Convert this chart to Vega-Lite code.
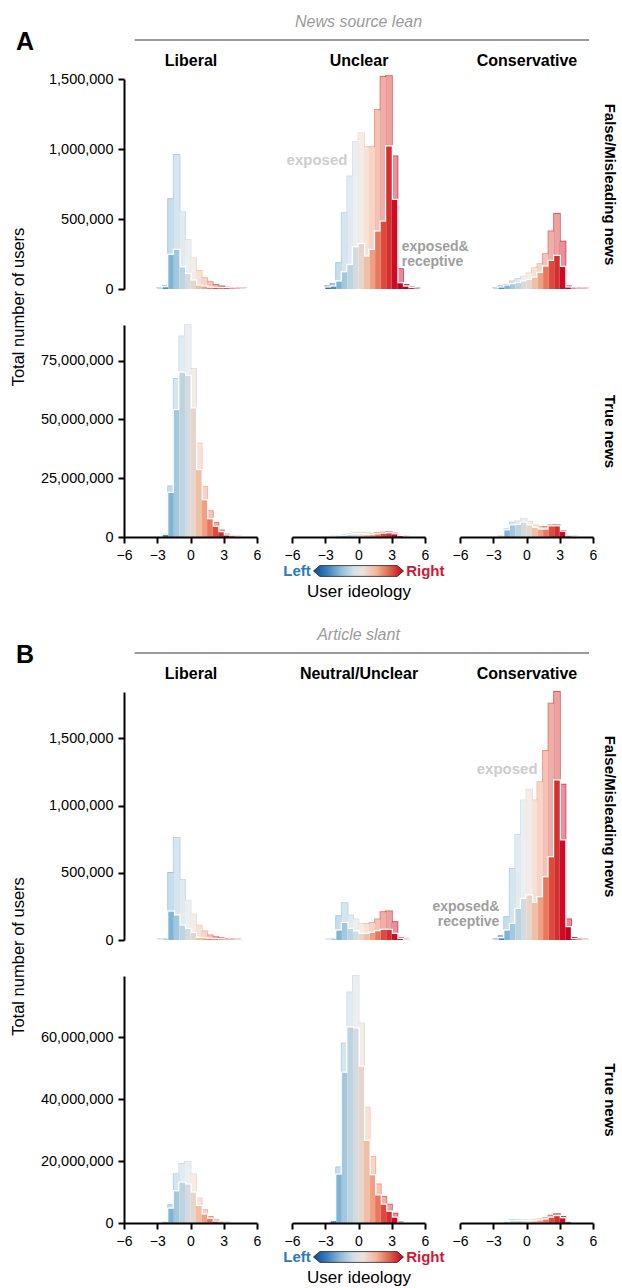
{
"$schema": "https://vega.github.io/schema/vega-lite/v6.json",
"padding": {"left": 10, "top": 14, "right": 5, "bottom": 5},
"config": {
  "font": "Liberation Sans",
  "view": {"stroke": null},
  "axis": {"grid": false, "domainColor": "black", "domainWidth": 2, "tickColor": "black", "tickWidth": 2, "tickSize": 6, "labelColor": "black", "labelFontSize": 14.5, "labelPadding": 5, "titleColor": "black"}
},
"datasets": {
"a11": [
{"lo":-3,"hi":-2.5,"exp":5000,"rec":2000},{"lo":-2.5,"hi":-2,"exp":17000,"rec":12000},{"lo":-2,"hi":-1.5,"exp":641000,"rec":243000},{"lo":-1.5,"hi":-1,"exp":957000,"rec":279000},{"lo":-1,"hi":-0.5,"exp":548000,"rec":155000},{"lo":-0.5,"hi":0,"exp":350000,"rec":107000},{"lo":0,"hi":0.5,"exp":219000,"rec":60000},{"lo":0.5,"hi":1,"exp":129000,"rec":24000},{"lo":1,"hi":1.5,"exp":76000,"rec":17000},{"lo":1.5,"hi":2,"exp":48000,"rec":9000},{"lo":2,"hi":2.5,"exp":29000,"rec":7000},{"lo":2.5,"hi":3,"exp":18000,"rec":5000},{"lo":3,"hi":3.5,"exp":9000,"rec":5000},{"lo":3.5,"hi":4,"exp":5000,"rec":3000},{"lo":4,"hi":4.5,"exp":4000,"rec":2000},{"lo":4.5,"hi":5,"exp":3000,"rec":1000}
],
"a12": [
{"lo":-3,"hi":-2.5,"exp":17000,"rec":10000},{"lo":-2.5,"hi":-2,"exp":34000,"rec":17000},{"lo":-2,"hi":-1.5,"exp":184000,"rec":53000},{"lo":-1.5,"hi":-1,"exp":541000,"rec":119000},{"lo":-1,"hi":-0.5,"exp":803000,"rec":171000},{"lo":-0.5,"hi":0,"exp":1048000,"rec":298000},{"lo":0,"hi":0.5,"exp":1112000,"rec":321000},{"lo":0.5,"hi":1,"exp":1012000,"rec":231000},{"lo":1,"hi":1.5,"exp":1012000,"rec":279000},{"lo":1.5,"hi":2,"exp":1279000,"rec":410000},{"lo":2,"hi":2.5,"exp":1515000,"rec":481000},{"lo":2.5,"hi":3,"exp":1520000,"rec":1017000},{"lo":3,"hi":3.5,"exp":946000,"rec":636000},{"lo":3.5,"hi":4,"exp":141000,"rec":41000},{"lo":4,"hi":4.5,"exp":29000,"rec":17000},{"lo":4.5,"hi":5,"exp":10000,"rec":6000},{"lo":5,"hi":5.5,"exp":7000,"rec":3000}
],
"a13": [
{"lo":-3,"hi":-2.5,"exp":5000,"rec":2000},{"lo":-2.5,"hi":-2,"exp":17000,"rec":10000},{"lo":-2,"hi":-1.5,"exp":29000,"rec":24000},{"lo":-1.5,"hi":-1,"exp":53000,"rec":34000},{"lo":-1,"hi":-0.5,"exp":71000,"rec":41000},{"lo":-0.5,"hi":0,"exp":88000,"rec":53000},{"lo":0,"hi":0.5,"exp":112000,"rec":64000},{"lo":0.5,"hi":1,"exp":148000,"rec":81000},{"lo":1,"hi":1.5,"exp":176000,"rec":114000},{"lo":1.5,"hi":2,"exp":248000,"rec":160000},{"lo":2,"hi":2.5,"exp":410000,"rec":200000},{"lo":2.5,"hi":3,"exp":536000,"rec":236000},{"lo":3,"hi":3.5,"exp":338000,"rec":157000},{"lo":3.5,"hi":4,"exp":17000,"rec":10000},{"lo":4,"hi":4.5,"exp":7000,"rec":3000},{"lo":4.5,"hi":5,"exp":5000,"rec":2000},{"lo":5,"hi":5.5,"exp":4000,"rec":2000}
],
"a21": [
{"lo":-2.5,"hi":-2,"exp":1000000,"rec":900000},{"lo":-2,"hi":-1.5,"exp":21500000,"rec":18700000},{"lo":-1.5,"hi":-1,"exp":67100000,"rec":53900000},{"lo":-1,"hi":-0.5,"exp":85200000,"rec":69800000},{"lo":-0.5,"hi":0,"exp":90100000,"rec":68400000},{"lo":0,"hi":0.5,"exp":71400000,"rec":54600000},{"lo":0.5,"hi":1,"exp":39700000,"rec":28400000},{"lo":1,"hi":1.5,"exp":21300000,"rec":15600000},{"lo":1.5,"hi":2,"exp":10900000,"rec":7500000},{"lo":2,"hi":2.5,"exp":6000000,"rec":4300000},{"lo":2.5,"hi":3,"exp":2800000,"rec":2000000},{"lo":3,"hi":3.5,"exp":1000000,"rec":600000},{"lo":3.5,"hi":4,"exp":300000,"rec":200000},{"lo":4,"hi":4.5,"exp":100000,"rec":50000}
],
"a22": [
{"lo":-2.5,"hi":-2,"exp":100000,"rec":50000},{"lo":-2,"hi":-1.5,"exp":300000,"rec":200000},{"lo":-1.5,"hi":-1,"exp":800000,"rec":500000},{"lo":-1,"hi":-0.5,"exp":1300000,"rec":900000},{"lo":-0.5,"hi":0,"exp":1700000,"rec":1100000},{"lo":0,"hi":0.5,"exp":1800000,"rec":1100000},{"lo":0.5,"hi":1,"exp":1500000,"rec":900000},{"lo":1,"hi":1.5,"exp":1400000,"rec":900000},{"lo":1.5,"hi":2,"exp":1600000,"rec":1100000},{"lo":2,"hi":2.5,"exp":1800000,"rec":1400000},{"lo":2.5,"hi":3,"exp":1900000,"rec":1500000},{"lo":3,"hi":3.5,"exp":1400000,"rec":1100000},{"lo":3.5,"hi":4,"exp":400000,"rec":300000},{"lo":4,"hi":4.5,"exp":100000,"rec":50000}
],
"a23": [
{"lo":-2.5,"hi":-2,"exp":200000,"rec":100000},{"lo":-2,"hi":-1.5,"exp":3200000,"rec":2800000},{"lo":-1.5,"hi":-1,"exp":6100000,"rec":4900000},{"lo":-1,"hi":-0.5,"exp":6600000,"rec":5100000},{"lo":-0.5,"hi":0,"exp":7800000,"rec":6100000},{"lo":0,"hi":0.5,"exp":6400000,"rec":4900000},{"lo":0.5,"hi":1,"exp":4900000,"rec":3900000},{"lo":1,"hi":1.5,"exp":4200000,"rec":3100000},{"lo":1.5,"hi":2,"exp":4200000,"rec":3100000},{"lo":2,"hi":2.5,"exp":4900000,"rec":4500000},{"lo":2.5,"hi":3,"exp":4900000,"rec":4500000},{"lo":3,"hi":3.5,"exp":2500000,"rec":2200000},{"lo":3.5,"hi":4,"exp":300000,"rec":200000},{"lo":4,"hi":4.5,"exp":100000,"rec":50000}
],
"b11": [
{"lo":-3,"hi":-2.5,"exp":3000,"rec":1000},{"lo":-2.5,"hi":-2,"exp":7000,"rec":3000},{"lo":-2,"hi":-1.5,"exp":499000,"rec":211000},{"lo":-1.5,"hi":-1,"exp":760000,"rec":182000},{"lo":-1,"hi":-0.5,"exp":447000,"rec":107000},{"lo":-0.5,"hi":0,"exp":293000,"rec":82000},{"lo":0,"hi":0.5,"exp":189000,"rec":52000},{"lo":0.5,"hi":1,"exp":107000,"rec":15000},{"lo":1,"hi":1.5,"exp":63000,"rec":12000},{"lo":1.5,"hi":2,"exp":33000,"rec":7000},{"lo":2,"hi":2.5,"exp":21000,"rec":5000},{"lo":2.5,"hi":3,"exp":12000,"rec":3000},{"lo":3,"hi":3.5,"exp":7000,"rec":2000},{"lo":3.5,"hi":4,"exp":5000,"rec":2000},{"lo":4,"hi":4.5,"exp":3000,"rec":1000}
],
"b12": [
{"lo":-3,"hi":-2.5,"exp":2000,"rec":1000},{"lo":-2.5,"hi":-2,"exp":7000,"rec":3000},{"lo":-2,"hi":-1.5,"exp":177000,"rec":70000},{"lo":-1.5,"hi":-1,"exp":273000,"rec":127000},{"lo":-1,"hi":-0.5,"exp":182000,"rec":82000},{"lo":-0.5,"hi":0,"exp":152000,"rec":63000},{"lo":0,"hi":0.5,"exp":119000,"rec":45000},{"lo":0.5,"hi":1,"exp":119000,"rec":45000},{"lo":1,"hi":1.5,"exp":127000,"rec":52000},{"lo":1.5,"hi":2,"exp":152000,"rec":65000},{"lo":2,"hi":2.5,"exp":206000,"rec":75000},{"lo":2.5,"hi":3,"exp":212000,"rec":75000},{"lo":3,"hi":3.5,"exp":132000,"rec":45000},{"lo":3.5,"hi":4,"exp":13000,"rec":7000},{"lo":4,"hi":4.5,"exp":3000,"rec":1000}
],
"b13": [
{"lo":-3,"hi":-2.5,"exp":7000,"rec":2000},{"lo":-2.5,"hi":-2,"exp":27000,"rec":13000},{"lo":-2,"hi":-1.5,"exp":169000,"rec":70000},{"lo":-1.5,"hi":-1,"exp":529000,"rec":119000},{"lo":-1,"hi":-0.5,"exp":782000,"rec":231000},{"lo":-0.5,"hi":0,"exp":1039000,"rec":306000},{"lo":0,"hi":0.5,"exp":1118000,"rec":331000},{"lo":0.5,"hi":1,"exp":1039000,"rec":276000},{"lo":1,"hi":1.5,"exp":1175000,"rec":318000},{"lo":1.5,"hi":2,"exp":1406000,"rec":467000},{"lo":2,"hi":2.5,"exp":1759000,"rec":616000},{"lo":2.5,"hi":3,"exp":1846000,"rec":1188000},{"lo":3,"hi":3.5,"exp":1155000,"rec":741000},{"lo":3.5,"hi":4,"exp":152000,"rec":95000},{"lo":4,"hi":4.5,"exp":15000,"rec":5000},{"lo":4.5,"hi":5,"exp":7000,"rec":3000},{"lo":5,"hi":5.5,"exp":3000,"rec":1000}
],
"b21": [
{"lo":-2.5,"hi":-2,"exp":300000,"rec":200000},{"lo":-2,"hi":-1.5,"exp":5700000,"rec":4600000},{"lo":-1.5,"hi":-1,"exp":15700000,"rec":10200000},{"lo":-1,"hi":-0.5,"exp":19000000,"rec":13000000},{"lo":-0.5,"hi":0,"exp":19700000,"rec":12400000},{"lo":0,"hi":0.5,"exp":15700000,"rec":9800000},{"lo":0.5,"hi":1,"exp":7900000,"rec":5500000},{"lo":1,"hi":1.5,"exp":4100000,"rec":2700000},{"lo":1.5,"hi":2,"exp":1900000,"rec":1300000},{"lo":2,"hi":2.5,"exp":800000,"rec":400000},{"lo":2.5,"hi":3,"exp":300000,"rec":150000},{"lo":3,"hi":3.5,"exp":100000,"rec":50000}
],
"b22": [
{"lo":-2.5,"hi":-2,"exp":650000,"rec":600000},{"lo":-2,"hi":-1.5,"exp":17900000,"rec":15600000},{"lo":-1.5,"hi":-1,"exp":57900000,"rec":48500000},{"lo":-1,"hi":-0.5,"exp":74400000,"rec":63100000},{"lo":-0.5,"hi":0,"exp":79700000,"rec":62800000},{"lo":0,"hi":0.5,"exp":64400000,"rec":50400000},{"lo":0.5,"hi":1,"exp":37200000,"rec":26500000},{"lo":1,"hi":1.5,"exp":21300000,"rec":15400000},{"lo":1.5,"hi":2,"exp":12400000,"rec":8900000},{"lo":2,"hi":2.5,"exp":8400000,"rec":5900000},{"lo":2.5,"hi":3,"exp":5900000,"rec":3600000},{"lo":3,"hi":3.5,"exp":3000000,"rec":1700000},{"lo":3.5,"hi":4,"exp":300000,"rec":100000}
],
"b23": [
{"lo":-2,"hi":-1.5,"exp":300000,"rec":200000},{"lo":-1.5,"hi":-1,"exp":900000,"rec":500000},{"lo":-1,"hi":-0.5,"exp":1000000,"rec":600000},{"lo":-0.5,"hi":0,"exp":900000,"rec":600000},{"lo":0,"hi":0.5,"exp":800000,"rec":500000},{"lo":0.5,"hi":1,"exp":900000,"rec":600000},{"lo":1,"hi":1.5,"exp":1100000,"rec":800000},{"lo":1.5,"hi":2,"exp":1500000,"rec":1100000},{"lo":2,"hi":2.5,"exp":2300000,"rec":1700000},{"lo":2.5,"hi":3,"exp":2800000,"rec":2200000},{"lo":3,"hi":3.5,"exp":1900000,"rec":1500000},{"lo":3.5,"hi":4,"exp":300000,"rec":200000}
]
},
"spacing": 28,
"vconcat": [
{
 "title": {"text": "A", "anchor": "start", "fontSize": 25, "fontWeight": "bold", "dx": 5, "dy": 45, "color": "black"},
 "spacing": 6,
 "vconcat": [
  {"width": 469, "height": 24, "data": {"values": [{}]}, "layer": [
    {"mark": {"type": "rule", "color": "#9a9a9a", "strokeWidth": 2}, "encoding": {"x": {"datum": -20.2, "type": "quantitative", "scale": {"domain": [-21.16, 21.16], "nice": false}, "axis": null}, "x2": {"datum": 20.8}, "y": {"datum": 0.25, "type": "quantitative", "scale": {"domain": [0, 1], "nice": false}, "axis": null}}},
    {"mark": {"type": "text", "text": "News source lean", "fontSize": 16, "fontStyle": "italic", "color": "#9a9a9a", "baseline": "middle"}, "encoding": {"y": {"datum": 1, "type": "quantitative", "scale": {"domain": [0, 1], "nice": false}, "axis": null}}}
  ]},
  {"spacing": 2, "vconcat": [
   {"title": {"text": "Total number of users", "orient": "left", "anchor": "middle", "fontSize": 16.5, "fontWeight": "normal", "offset": 13, "color": "black"},
    "columns": 3, "align": "each", "bounds": "flush", "spacing": {"row": 36, "column": 35},
    "concat": [
     {"width": 133, "height": 210, "data": {"name": "a11"},
      "encoding": {"x": {"field": "lo", "type": "quantitative", "scale": {"domain": [-6, 6], "nice": false}, "axis": {"orient": "top", "title": "Liberal", "labels": false, "ticks": false, "domain": false, "titleFontSize": 16, "titleFontWeight": "bold", "titlePadding": 11}}, "x2": {"field": "hi"}, "y2": {"datum": 0}},
      "layer": [
       {"mark": {"type": "rect", "filled": false, "strokeWidth": 2, "strokeOpacity": 0.8}, "encoding": {"y": {"field": "exp", "type": "quantitative", "scale": {"domain": [0, 1500000], "nice": false}, "axis": {"values": [0, 500000, 1000000, 1500000], "format": ",d", "title": null}}, "color": {"field": "lo", "type": "quantitative", "scale": {"domain": [-3.5,-3,-2.5,-2,-1.5,-1,-0.5,0,0.5,1,1.5,2,2.5,3,3.5], "range": ["#1a5ea6","#2b6fb2","#4a8bc4","#7fb4d6","#a3c8de","#bcd3e0","#d3dbe0","#e7d4ca","#f0bda5","#efa082","#e8775c","#dc4b3d","#d3302f","#cc0b27","#c4001f"], "interpolate": "rgb"}, "legend": null}}},
       {"mark": {"type": "rect", "color": "white", "strokeWidth": 0}, "encoding": {"y": {"field": "exp", "type": "quantitative", "scale": {"domain": [0, 1500000], "nice": false}, "axis": {"values": [0, 500000, 1000000, 1500000], "format": ",d", "title": null}}}},
       {"mark": {"type": "rect", "fillOpacity": 0.45, "strokeWidth": 0}, "encoding": {"y": {"field": "exp", "type": "quantitative", "scale": {"domain": [0, 1500000], "nice": false}, "axis": {"values": [0, 500000, 1000000, 1500000], "format": ",d", "title": null}}, "color": {"field": "lo", "type": "quantitative", "legend": null}}},
       {"mark": {"type": "rect", "stroke": "white", "strokeWidth": 2.5}, "encoding": {"y": {"field": "rec", "type": "quantitative", "scale": {"domain": [0, 1500000], "nice": false}, "axis": {"values": [0, 500000, 1000000, 1500000], "format": ",d", "title": null}}, "color": {"field": "lo", "type": "quantitative", "legend": null}}},
       {"mark": {"type": "rect", "strokeWidth": 0}, "encoding": {"y": {"field": "rec", "type": "quantitative", "scale": {"domain": [0, 1500000], "nice": false}, "axis": {"values": [0, 500000, 1000000, 1500000], "format": ",d", "title": null}}, "color": {"field": "lo", "type": "quantitative", "legend": null}}}
      ]},
     {"width": 133, "height": 210, "data": {"name": "a12"},
      "encoding": {"x": {"field": "lo", "type": "quantitative", "scale": {"domain": [-6, 6], "nice": false}, "axis": {"orient": "top", "title": "Unclear", "labels": false, "ticks": false, "domain": false, "titleFontSize": 16, "titleFontWeight": "bold", "titlePadding": 11}}},
      "layer": [
       {"mark": {"type": "rect", "filled": false, "strokeWidth": 2, "strokeOpacity": 0.8}, "encoding": {"x2": {"field": "hi"}, "y2": {"datum": 0}, "y": {"field": "exp", "type": "quantitative", "scale": {"domain": [0, 1500000], "nice": false}, "axis": null}, "color": {"field": "lo", "type": "quantitative", "scale": {"domain": [-3.5,-3,-2.5,-2,-1.5,-1,-0.5,0,0.5,1,1.5,2,2.5,3,3.5], "range": ["#1a5ea6","#2b6fb2","#4a8bc4","#7fb4d6","#a3c8de","#bcd3e0","#d3dbe0","#e7d4ca","#f0bda5","#efa082","#e8775c","#dc4b3d","#d3302f","#cc0b27","#c4001f"], "interpolate": "rgb"}, "legend": null}}},
       {"mark": {"type": "rect", "color": "white", "strokeWidth": 0}, "encoding": {"x2": {"field": "hi"}, "y2": {"datum": 0}, "y": {"field": "exp", "type": "quantitative", "scale": {"domain": [0, 1500000], "nice": false}, "axis": null}}},
       {"mark": {"type": "rect", "fillOpacity": 0.45, "strokeWidth": 0}, "encoding": {"x2": {"field": "hi"}, "y2": {"datum": 0}, "y": {"field": "exp", "type": "quantitative", "scale": {"domain": [0, 1500000], "nice": false}, "axis": null}, "color": {"field": "lo", "type": "quantitative", "legend": null}}},
       {"mark": {"type": "rect", "stroke": "white", "strokeWidth": 2.5}, "encoding": {"x2": {"field": "hi"}, "y2": {"datum": 0}, "y": {"field": "rec", "type": "quantitative", "scale": {"domain": [0, 1500000], "nice": false}, "axis": null}, "color": {"field": "lo", "type": "quantitative", "legend": null}}},
       {"mark": {"type": "rect", "strokeWidth": 0}, "encoding": {"x2": {"field": "hi"}, "y2": {"datum": 0}, "y": {"field": "rec", "type": "quantitative", "scale": {"domain": [0, 1500000], "nice": false}, "axis": null}, "color": {"field": "lo", "type": "quantitative", "legend": null}}},
       {"transform": [{"filter": "datum.lo === 0"}], "mark": {"type": "text", "text": "exposed", "align": "right", "baseline": "middle", "fontSize": 15, "fontWeight": "bold", "color": "#cdcdcd"}, "encoding": {"x": {"datum": -1.0, "type": "quantitative", "axis": {"orient": "top", "title": "Unclear", "labels": false, "ticks": false, "domain": false, "titleFontSize": 16, "titleFontWeight": "bold", "titlePadding": 11}}, "y": {"datum": 919000, "type": "quantitative", "axis": null}}},
       {"transform": [{"filter": "datum.lo === 0"}], "mark": {"type": "text", "text": ["exposed&", "receptive"], "align": "left", "baseline": "middle", "lineHeight": 15, "fontSize": 14, "fontWeight": "bold", "color": "#9e9e9e"}, "encoding": {"x": {"datum": 3.9, "type": "quantitative", "axis": {"orient": "top", "title": "Unclear", "labels": false, "ticks": false, "domain": false, "titleFontSize": 16, "titleFontWeight": "bold", "titlePadding": 11}}, "y": {"datum": 300000, "type": "quantitative", "axis": null}}}
      ]},
     {"width": 133, "height": 210, "data": {"name": "a13"},
      "encoding": {"x": {"field": "lo", "type": "quantitative", "scale": {"domain": [-6, 6], "nice": false}, "axis": {"orient": "top", "title": "Conservative", "labels": false, "ticks": false, "domain": false, "titleFontSize": 16, "titleFontWeight": "bold", "titlePadding": 11}}, "x2": {"field": "hi"}, "y2": {"datum": 0}},
      "layer": [
       {"mark": {"type": "rect", "filled": false, "strokeWidth": 2, "strokeOpacity": 0.8}, "encoding": {"y": {"field": "exp", "type": "quantitative", "scale": {"domain": [0, 1500000], "nice": false}, "axis": {"orient": "right", "title": "False/Misleading news", "labels": false, "ticks": false, "domain": false, "titleFontSize": 15, "titleFontWeight": "bold", "titlePadding": 8}}, "color": {"field": "lo", "type": "quantitative", "scale": {"domain": [-3.5,-3,-2.5,-2,-1.5,-1,-0.5,0,0.5,1,1.5,2,2.5,3,3.5], "range": ["#1a5ea6","#2b6fb2","#4a8bc4","#7fb4d6","#a3c8de","#bcd3e0","#d3dbe0","#e7d4ca","#f0bda5","#efa082","#e8775c","#dc4b3d","#d3302f","#cc0b27","#c4001f"], "interpolate": "rgb"}, "legend": null}}},
       {"mark": {"type": "rect", "color": "white", "strokeWidth": 0}, "encoding": {"y": {"field": "exp", "type": "quantitative", "scale": {"domain": [0, 1500000], "nice": false}, "axis": {"orient": "right", "title": "False/Misleading news", "labels": false, "ticks": false, "domain": false, "titleFontSize": 15, "titleFontWeight": "bold", "titlePadding": 8}}}},
       {"mark": {"type": "rect", "fillOpacity": 0.45, "strokeWidth": 0}, "encoding": {"y": {"field": "exp", "type": "quantitative", "scale": {"domain": [0, 1500000], "nice": false}, "axis": {"orient": "right", "title": "False/Misleading news", "labels": false, "ticks": false, "domain": false, "titleFontSize": 15, "titleFontWeight": "bold", "titlePadding": 8}}, "color": {"field": "lo", "type": "quantitative", "legend": null}}},
       {"mark": {"type": "rect", "stroke": "white", "strokeWidth": 2.5}, "encoding": {"y": {"field": "rec", "type": "quantitative", "scale": {"domain": [0, 1500000], "nice": false}, "axis": {"orient": "right", "title": "False/Misleading news", "labels": false, "ticks": false, "domain": false, "titleFontSize": 15, "titleFontWeight": "bold", "titlePadding": 8}}, "color": {"field": "lo", "type": "quantitative", "legend": null}}},
       {"mark": {"type": "rect", "strokeWidth": 0}, "encoding": {"y": {"field": "rec", "type": "quantitative", "scale": {"domain": [0, 1500000], "nice": false}, "axis": {"orient": "right", "title": "False/Misleading news", "labels": false, "ticks": false, "domain": false, "titleFontSize": 15, "titleFontWeight": "bold", "titlePadding": 8}}, "color": {"field": "lo", "type": "quantitative", "legend": null}}}
      ]},
     {"width": 133, "height": 212, "data": {"name": "a21"},
      "encoding": {"x": {"field": "lo", "type": "quantitative", "scale": {"domain": [-6, 6], "nice": false}, "axis": {"values": [-6, -3, 0, 3, 6], "title": null, "labelFlush": false, "labelFontSize": 14, "zindex": 1}}, "x2": {"field": "hi"}, "y2": {"datum": 0}},
      "layer": [
       {"mark": {"type": "rect", "filled": false, "strokeWidth": 2, "strokeOpacity": 0.8}, "encoding": {"y": {"field": "exp", "type": "quantitative", "scale": {"domain": [0, 90100000], "nice": false}, "axis": {"values": [0, 25000000, 50000000, 75000000], "format": ",d", "title": null}}, "color": {"field": "lo", "type": "quantitative", "scale": {"domain": [-3.5,-3,-2.5,-2,-1.5,-1,-0.5,0,0.5,1,1.5,2,2.5,3,3.5], "range": ["#1a5ea6","#2b6fb2","#4a8bc4","#7fb4d6","#a3c8de","#bcd3e0","#d3dbe0","#e7d4ca","#f0bda5","#efa082","#e8775c","#dc4b3d","#d3302f","#cc0b27","#c4001f"], "interpolate": "rgb"}, "legend": null}}},
       {"mark": {"type": "rect", "color": "white", "strokeWidth": 0}, "encoding": {"y": {"field": "exp", "type": "quantitative", "scale": {"domain": [0, 90100000], "nice": false}, "axis": {"values": [0, 25000000, 50000000, 75000000], "format": ",d", "title": null}}}},
       {"mark": {"type": "rect", "fillOpacity": 0.45, "strokeWidth": 0}, "encoding": {"y": {"field": "exp", "type": "quantitative", "scale": {"domain": [0, 90100000], "nice": false}, "axis": {"values": [0, 25000000, 50000000, 75000000], "format": ",d", "title": null}}, "color": {"field": "lo", "type": "quantitative", "legend": null}}},
       {"mark": {"type": "rect", "stroke": "white", "strokeWidth": 2.5}, "encoding": {"y": {"field": "rec", "type": "quantitative", "scale": {"domain": [0, 90100000], "nice": false}, "axis": {"values": [0, 25000000, 50000000, 75000000], "format": ",d", "title": null}}, "color": {"field": "lo", "type": "quantitative", "legend": null}}},
       {"mark": {"type": "rect", "strokeWidth": 0}, "encoding": {"y": {"field": "rec", "type": "quantitative", "scale": {"domain": [0, 90100000], "nice": false}, "axis": {"values": [0, 25000000, 50000000, 75000000], "format": ",d", "title": null}}, "color": {"field": "lo", "type": "quantitative", "legend": null}}}
      ]},
     {"width": 133, "height": 212, "data": {"name": "a22"},
      "encoding": {"x": {"field": "lo", "type": "quantitative", "scale": {"domain": [-6, 6], "nice": false}, "axis": {"values": [-6, -3, 0, 3, 6], "title": null, "labelFlush": false, "labelFontSize": 14, "zindex": 1}}, "x2": {"field": "hi"}, "y2": {"datum": 0}},
      "layer": [
       {"mark": {"type": "rect", "filled": false, "strokeWidth": 2, "strokeOpacity": 0.8}, "encoding": {"y": {"field": "exp", "type": "quantitative", "scale": {"domain": [0, 90100000], "nice": false}, "axis": null}, "color": {"field": "lo", "type": "quantitative", "scale": {"domain": [-3.5,-3,-2.5,-2,-1.5,-1,-0.5,0,0.5,1,1.5,2,2.5,3,3.5], "range": ["#1a5ea6","#2b6fb2","#4a8bc4","#7fb4d6","#a3c8de","#bcd3e0","#d3dbe0","#e7d4ca","#f0bda5","#efa082","#e8775c","#dc4b3d","#d3302f","#cc0b27","#c4001f"], "interpolate": "rgb"}, "legend": null}}},
       {"mark": {"type": "rect", "color": "white", "strokeWidth": 0}, "encoding": {"y": {"field": "exp", "type": "quantitative", "scale": {"domain": [0, 90100000], "nice": false}, "axis": null}}},
       {"mark": {"type": "rect", "fillOpacity": 0.45, "strokeWidth": 0}, "encoding": {"y": {"field": "exp", "type": "quantitative", "scale": {"domain": [0, 90100000], "nice": false}, "axis": null}, "color": {"field": "lo", "type": "quantitative", "legend": null}}},
       {"mark": {"type": "rect", "stroke": "white", "strokeWidth": 2.5}, "encoding": {"y": {"field": "rec", "type": "quantitative", "scale": {"domain": [0, 90100000], "nice": false}, "axis": null}, "color": {"field": "lo", "type": "quantitative", "legend": null}}},
       {"mark": {"type": "rect", "strokeWidth": 0}, "encoding": {"y": {"field": "rec", "type": "quantitative", "scale": {"domain": [0, 90100000], "nice": false}, "axis": null}, "color": {"field": "lo", "type": "quantitative", "legend": null}}}
      ]},
     {"width": 133, "height": 212, "data": {"name": "a23"},
      "encoding": {"x": {"field": "lo", "type": "quantitative", "scale": {"domain": [-6, 6], "nice": false}, "axis": {"values": [-6, -3, 0, 3, 6], "title": null, "labelFlush": false, "labelFontSize": 14, "zindex": 1}}, "x2": {"field": "hi"}, "y2": {"datum": 0}},
      "layer": [
       {"mark": {"type": "rect", "filled": false, "strokeWidth": 2, "strokeOpacity": 0.8}, "encoding": {"y": {"field": "exp", "type": "quantitative", "scale": {"domain": [0, 90100000], "nice": false}, "axis": {"orient": "right", "title": "True news", "labels": false, "ticks": false, "domain": false, "titleFontSize": 15, "titleFontWeight": "bold", "titlePadding": 8}}, "color": {"field": "lo", "type": "quantitative", "scale": {"domain": [-3.5,-3,-2.5,-2,-1.5,-1,-0.5,0,0.5,1,1.5,2,2.5,3,3.5], "range": ["#1a5ea6","#2b6fb2","#4a8bc4","#7fb4d6","#a3c8de","#bcd3e0","#d3dbe0","#e7d4ca","#f0bda5","#efa082","#e8775c","#dc4b3d","#d3302f","#cc0b27","#c4001f"], "interpolate": "rgb"}, "legend": null}}},
       {"mark": {"type": "rect", "color": "white", "strokeWidth": 0}, "encoding": {"y": {"field": "exp", "type": "quantitative", "scale": {"domain": [0, 90100000], "nice": false}, "axis": {"orient": "right", "title": "True news", "labels": false, "ticks": false, "domain": false, "titleFontSize": 15, "titleFontWeight": "bold", "titlePadding": 8}}}},
       {"mark": {"type": "rect", "fillOpacity": 0.45, "strokeWidth": 0}, "encoding": {"y": {"field": "exp", "type": "quantitative", "scale": {"domain": [0, 90100000], "nice": false}, "axis": {"orient": "right", "title": "True news", "labels": false, "ticks": false, "domain": false, "titleFontSize": 15, "titleFontWeight": "bold", "titlePadding": 8}}, "color": {"field": "lo", "type": "quantitative", "legend": null}}},
       {"mark": {"type": "rect", "stroke": "white", "strokeWidth": 2.5}, "encoding": {"y": {"field": "rec", "type": "quantitative", "scale": {"domain": [0, 90100000], "nice": false}, "axis": {"orient": "right", "title": "True news", "labels": false, "ticks": false, "domain": false, "titleFontSize": 15, "titleFontWeight": "bold", "titlePadding": 8}}, "color": {"field": "lo", "type": "quantitative", "legend": null}}},
       {"mark": {"type": "rect", "strokeWidth": 0}, "encoding": {"y": {"field": "rec", "type": "quantitative", "scale": {"domain": [0, 90100000], "nice": false}, "axis": {"orient": "right", "title": "True news", "labels": false, "ticks": false, "domain": false, "titleFontSize": 15, "titleFontWeight": "bold", "titlePadding": 8}}, "color": {"field": "lo", "type": "quantitative", "legend": null}}}
      ]}
    ]},
   {"width": 469, "height": 12, "data": {"values": [{}]}, "layer": [
     {"mark": {"type": "point", "shape": "M-1,0L-0.86,-0.12L0.86,-0.12L1,0L0.86,0.12L-0.86,0.12Z", "size": 8100, "filled": true, "opacity": 1, "stroke": "#222222", "strokeWidth": 0.8, "fill": {"gradient": "linear", "x1": 0, "y1": 0, "x2": 1, "y2": 0, "stops": [{"offset": 0, "color": "#0b4a94"}, {"offset": 0.15, "color": "#3a7fbd"}, {"offset": 0.3, "color": "#8dbcd9"}, {"offset": 0.45, "color": "#d6e0e6"}, {"offset": 0.55, "color": "#eee2dc"}, {"offset": 0.7, "color": "#f2b59b"}, {"offset": 0.85, "color": "#e0604a"}, {"offset": 1, "color": "#c0001f"}]}},
      "encoding": {"x": {"datum": 0, "type": "quantitative", "scale": {"domain": [-21.16, 21.16], "nice": false}, "axis": {"labels": false, "ticks": false, "domain": false, "title": "User ideology", "titleFontSize": 17, "titleFontWeight": "normal", "titlePadding": 6}}}},
     {"mark": {"type": "text", "text": "Left", "align": "right", "baseline": "middle", "fontSize": 15, "fontWeight": "bold", "color": "#2b7bba"}, "encoding": {"x": {"datum": -4.3, "type": "quantitative", "axis": {"labels": false, "ticks": false, "domain": false, "title": "User ideology", "titleFontSize": 17, "titleFontWeight": "normal", "titlePadding": 6}}}},
     {"mark": {"type": "text", "text": "Right", "align": "left", "baseline": "middle", "fontSize": 15, "fontWeight": "bold", "color": "#cc1a35"}, "encoding": {"x": {"datum": 4.3, "type": "quantitative", "axis": {"labels": false, "ticks": false, "domain": false, "title": "User ideology", "titleFontSize": 17, "titleFontWeight": "normal", "titlePadding": 6}}}}
   ]}
  ]}
 ]
},
{
 "title": {"text": "B", "anchor": "start", "fontSize": 25, "fontWeight": "bold", "dx": 5, "dy": 45, "color": "black"},
 "spacing": 6,
 "vconcat": [
  {"width": 469, "height": 24, "data": {"values": [{}]}, "layer": [
    {"mark": {"type": "rule", "color": "#9a9a9a", "strokeWidth": 2}, "encoding": {"x": {"datum": -20.2, "type": "quantitative", "scale": {"domain": [-21.16, 21.16], "nice": false}, "axis": null}, "x2": {"datum": 20.8}, "y": {"datum": 0.25, "type": "quantitative", "scale": {"domain": [0, 1], "nice": false}, "axis": null}}},
    {"mark": {"type": "text", "text": "Article slant", "fontSize": 16, "fontStyle": "italic", "color": "#9a9a9a", "baseline": "middle"}, "encoding": {"y": {"datum": 1, "type": "quantitative", "scale": {"domain": [0, 1], "nice": false}, "axis": null}}}
  ]},
  {"spacing": 2, "vconcat": [
   {"title": {"text": "Total number of users", "orient": "left", "anchor": "middle", "fontSize": 16.5, "fontWeight": "normal", "offset": 13, "color": "black"},
    "columns": 3, "align": "each", "bounds": "flush", "spacing": {"row": 36, "column": 35},
    "concat": [
     {"width": 133, "height": 248, "data": {"name": "b11"},
      "encoding": {"x": {"field": "lo", "type": "quantitative", "scale": {"domain": [-6, 6], "nice": false}, "axis": {"orient": "top", "title": "Liberal", "labels": false, "ticks": false, "domain": false, "titleFontSize": 16, "titleFontWeight": "bold", "titlePadding": 11}}, "x2": {"field": "hi"}, "y2": {"datum": 0}},
      "layer": [
       {"mark": {"type": "rect", "filled": false, "strokeWidth": 2, "strokeOpacity": 0.8}, "encoding": {"y": {"field": "exp", "type": "quantitative", "scale": {"domain": [0, 1846000], "nice": false}, "axis": {"values": [0, 500000, 1000000, 1500000], "format": ",d", "title": null}}, "color": {"field": "lo", "type": "quantitative", "scale": {"domain": [-3.5,-3,-2.5,-2,-1.5,-1,-0.5,0,0.5,1,1.5,2,2.5,3,3.5], "range": ["#1a5ea6","#2b6fb2","#4a8bc4","#7fb4d6","#a3c8de","#bcd3e0","#d3dbe0","#e7d4ca","#f0bda5","#efa082","#e8775c","#dc4b3d","#d3302f","#cc0b27","#c4001f"], "interpolate": "rgb"}, "legend": null}}},
       {"mark": {"type": "rect", "color": "white", "strokeWidth": 0}, "encoding": {"y": {"field": "exp", "type": "quantitative", "scale": {"domain": [0, 1846000], "nice": false}, "axis": {"values": [0, 500000, 1000000, 1500000], "format": ",d", "title": null}}}},
       {"mark": {"type": "rect", "fillOpacity": 0.45, "strokeWidth": 0}, "encoding": {"y": {"field": "exp", "type": "quantitative", "scale": {"domain": [0, 1846000], "nice": false}, "axis": {"values": [0, 500000, 1000000, 1500000], "format": ",d", "title": null}}, "color": {"field": "lo", "type": "quantitative", "legend": null}}},
       {"mark": {"type": "rect", "stroke": "white", "strokeWidth": 2.5}, "encoding": {"y": {"field": "rec", "type": "quantitative", "scale": {"domain": [0, 1846000], "nice": false}, "axis": {"values": [0, 500000, 1000000, 1500000], "format": ",d", "title": null}}, "color": {"field": "lo", "type": "quantitative", "legend": null}}},
       {"mark": {"type": "rect", "strokeWidth": 0}, "encoding": {"y": {"field": "rec", "type": "quantitative", "scale": {"domain": [0, 1846000], "nice": false}, "axis": {"values": [0, 500000, 1000000, 1500000], "format": ",d", "title": null}}, "color": {"field": "lo", "type": "quantitative", "legend": null}}}
      ]},
     {"width": 133, "height": 248, "data": {"name": "b12"},
      "encoding": {"x": {"field": "lo", "type": "quantitative", "scale": {"domain": [-6, 6], "nice": false}, "axis": {"orient": "top", "title": "Neutral/Unclear", "labels": false, "ticks": false, "domain": false, "titleFontSize": 16, "titleFontWeight": "bold", "titlePadding": 11}}, "x2": {"field": "hi"}, "y2": {"datum": 0}},
      "layer": [
       {"mark": {"type": "rect", "filled": false, "strokeWidth": 2, "strokeOpacity": 0.8}, "encoding": {"y": {"field": "exp", "type": "quantitative", "scale": {"domain": [0, 1846000], "nice": false}, "axis": null}, "color": {"field": "lo", "type": "quantitative", "scale": {"domain": [-3.5,-3,-2.5,-2,-1.5,-1,-0.5,0,0.5,1,1.5,2,2.5,3,3.5], "range": ["#1a5ea6","#2b6fb2","#4a8bc4","#7fb4d6","#a3c8de","#bcd3e0","#d3dbe0","#e7d4ca","#f0bda5","#efa082","#e8775c","#dc4b3d","#d3302f","#cc0b27","#c4001f"], "interpolate": "rgb"}, "legend": null}}},
       {"mark": {"type": "rect", "color": "white", "strokeWidth": 0}, "encoding": {"y": {"field": "exp", "type": "quantitative", "scale": {"domain": [0, 1846000], "nice": false}, "axis": null}}},
       {"mark": {"type": "rect", "fillOpacity": 0.45, "strokeWidth": 0}, "encoding": {"y": {"field": "exp", "type": "quantitative", "scale": {"domain": [0, 1846000], "nice": false}, "axis": null}, "color": {"field": "lo", "type": "quantitative", "legend": null}}},
       {"mark": {"type": "rect", "stroke": "white", "strokeWidth": 2.5}, "encoding": {"y": {"field": "rec", "type": "quantitative", "scale": {"domain": [0, 1846000], "nice": false}, "axis": null}, "color": {"field": "lo", "type": "quantitative", "legend": null}}},
       {"mark": {"type": "rect", "strokeWidth": 0}, "encoding": {"y": {"field": "rec", "type": "quantitative", "scale": {"domain": [0, 1846000], "nice": false}, "axis": null}, "color": {"field": "lo", "type": "quantitative", "legend": null}}}
      ]},
     {"width": 133, "height": 248, "data": {"name": "b13"},
      "encoding": {"x": {"field": "lo", "type": "quantitative", "scale": {"domain": [-6, 6], "nice": false}, "axis": {"orient": "top", "title": "Conservative", "labels": false, "ticks": false, "domain": false, "titleFontSize": 16, "titleFontWeight": "bold", "titlePadding": 11}}},
      "layer": [
       {"mark": {"type": "rect", "filled": false, "strokeWidth": 2, "strokeOpacity": 0.8}, "encoding": {"x2": {"field": "hi"}, "y2": {"datum": 0}, "y": {"field": "exp", "type": "quantitative", "scale": {"domain": [0, 1846000], "nice": false}, "axis": {"orient": "right", "title": "False/Misleading news", "labels": false, "ticks": false, "domain": false, "titleFontSize": 15, "titleFontWeight": "bold", "titlePadding": 8}}, "color": {"field": "lo", "type": "quantitative", "scale": {"domain": [-3.5,-3,-2.5,-2,-1.5,-1,-0.5,0,0.5,1,1.5,2,2.5,3,3.5], "range": ["#1a5ea6","#2b6fb2","#4a8bc4","#7fb4d6","#a3c8de","#bcd3e0","#d3dbe0","#e7d4ca","#f0bda5","#efa082","#e8775c","#dc4b3d","#d3302f","#cc0b27","#c4001f"], "interpolate": "rgb"}, "legend": null}}},
       {"mark": {"type": "rect", "color": "white", "strokeWidth": 0}, "encoding": {"x2": {"field": "hi"}, "y2": {"datum": 0}, "y": {"field": "exp", "type": "quantitative", "scale": {"domain": [0, 1846000], "nice": false}, "axis": {"orient": "right", "title": "False/Misleading news", "labels": false, "ticks": false, "domain": false, "titleFontSize": 15, "titleFontWeight": "bold", "titlePadding": 8}}}},
       {"mark": {"type": "rect", "fillOpacity": 0.45, "strokeWidth": 0}, "encoding": {"x2": {"field": "hi"}, "y2": {"datum": 0}, "y": {"field": "exp", "type": "quantitative", "scale": {"domain": [0, 1846000], "nice": false}, "axis": {"orient": "right", "title": "False/Misleading news", "labels": false, "ticks": false, "domain": false, "titleFontSize": 15, "titleFontWeight": "bold", "titlePadding": 8}}, "color": {"field": "lo", "type": "quantitative", "legend": null}}},
       {"mark": {"type": "rect", "stroke": "white", "strokeWidth": 2.5}, "encoding": {"x2": {"field": "hi"}, "y2": {"datum": 0}, "y": {"field": "rec", "type": "quantitative", "scale": {"domain": [0, 1846000], "nice": false}, "axis": {"orient": "right", "title": "False/Misleading news", "labels": false, "ticks": false, "domain": false, "titleFontSize": 15, "titleFontWeight": "bold", "titlePadding": 8}}, "color": {"field": "lo", "type": "quantitative", "legend": null}}},
       {"mark": {"type": "rect", "strokeWidth": 0}, "encoding": {"x2": {"field": "hi"}, "y2": {"datum": 0}, "y": {"field": "rec", "type": "quantitative", "scale": {"domain": [0, 1846000], "nice": false}, "axis": {"orient": "right", "title": "False/Misleading news", "labels": false, "ticks": false, "domain": false, "titleFontSize": 15, "titleFontWeight": "bold", "titlePadding": 8}}, "color": {"field": "lo", "type": "quantitative", "legend": null}}},
       {"transform": [{"filter": "datum.lo === 0"}], "mark": {"type": "text", "text": "exposed", "align": "right", "baseline": "middle", "fontSize": 15, "fontWeight": "bold", "color": "#cdcdcd"}, "encoding": {"x": {"datum": 1.0, "type": "quantitative", "axis": {"orient": "top", "title": "Conservative", "labels": false, "ticks": false, "domain": false, "titleFontSize": 16, "titleFontWeight": "bold", "titlePadding": 11}}, "y": {"datum": 1272000, "type": "quantitative", "axis": {"orient": "right", "title": "False/Misleading news", "labels": false, "ticks": false, "domain": false, "titleFontSize": 15, "titleFontWeight": "bold", "titlePadding": 8}}}},
       {"transform": [{"filter": "datum.lo === 0"}], "mark": {"type": "text", "text": ["exposed&", "receptive"], "align": "right", "baseline": "middle", "lineHeight": 15, "fontSize": 14, "fontWeight": "bold", "color": "#9e9e9e"}, "encoding": {"x": {"datum": -2.45, "type": "quantitative", "axis": {"orient": "top", "title": "Conservative", "labels": false, "ticks": false, "domain": false, "titleFontSize": 16, "titleFontWeight": "bold", "titlePadding": 11}}, "y": {"datum": 247000, "type": "quantitative", "axis": {"orient": "right", "title": "False/Misleading news", "labels": false, "ticks": false, "domain": false, "titleFontSize": 15, "titleFontWeight": "bold", "titlePadding": 8}}}}
      ]},
     {"width": 133, "height": 247, "data": {"name": "b21"},
      "encoding": {"x": {"field": "lo", "type": "quantitative", "scale": {"domain": [-6, 6], "nice": false}, "axis": {"values": [-6, -3, 0, 3, 6], "title": null, "labelFlush": false, "labelFontSize": 14, "zindex": 1}}, "x2": {"field": "hi"}, "y2": {"datum": 0}},
      "layer": [
       {"mark": {"type": "rect", "filled": false, "strokeWidth": 2, "strokeOpacity": 0.8}, "encoding": {"y": {"field": "exp", "type": "quantitative", "scale": {"domain": [0, 79700000], "nice": false}, "axis": {"values": [0, 20000000, 40000000, 60000000], "format": ",d", "title": null}}, "color": {"field": "lo", "type": "quantitative", "scale": {"domain": [-3.5,-3,-2.5,-2,-1.5,-1,-0.5,0,0.5,1,1.5,2,2.5,3,3.5], "range": ["#1a5ea6","#2b6fb2","#4a8bc4","#7fb4d6","#a3c8de","#bcd3e0","#d3dbe0","#e7d4ca","#f0bda5","#efa082","#e8775c","#dc4b3d","#d3302f","#cc0b27","#c4001f"], "interpolate": "rgb"}, "legend": null}}},
       {"mark": {"type": "rect", "color": "white", "strokeWidth": 0}, "encoding": {"y": {"field": "exp", "type": "quantitative", "scale": {"domain": [0, 79700000], "nice": false}, "axis": {"values": [0, 20000000, 40000000, 60000000], "format": ",d", "title": null}}}},
       {"mark": {"type": "rect", "fillOpacity": 0.45, "strokeWidth": 0}, "encoding": {"y": {"field": "exp", "type": "quantitative", "scale": {"domain": [0, 79700000], "nice": false}, "axis": {"values": [0, 20000000, 40000000, 60000000], "format": ",d", "title": null}}, "color": {"field": "lo", "type": "quantitative", "legend": null}}},
       {"mark": {"type": "rect", "stroke": "white", "strokeWidth": 2.5}, "encoding": {"y": {"field": "rec", "type": "quantitative", "scale": {"domain": [0, 79700000], "nice": false}, "axis": {"values": [0, 20000000, 40000000, 60000000], "format": ",d", "title": null}}, "color": {"field": "lo", "type": "quantitative", "legend": null}}},
       {"mark": {"type": "rect", "strokeWidth": 0}, "encoding": {"y": {"field": "rec", "type": "quantitative", "scale": {"domain": [0, 79700000], "nice": false}, "axis": {"values": [0, 20000000, 40000000, 60000000], "format": ",d", "title": null}}, "color": {"field": "lo", "type": "quantitative", "legend": null}}}
      ]},
     {"width": 133, "height": 247, "data": {"name": "b22"},
      "encoding": {"x": {"field": "lo", "type": "quantitative", "scale": {"domain": [-6, 6], "nice": false}, "axis": {"values": [-6, -3, 0, 3, 6], "title": null, "labelFlush": false, "labelFontSize": 14, "zindex": 1}}, "x2": {"field": "hi"}, "y2": {"datum": 0}},
      "layer": [
       {"mark": {"type": "rect", "filled": false, "strokeWidth": 2, "strokeOpacity": 0.8}, "encoding": {"y": {"field": "exp", "type": "quantitative", "scale": {"domain": [0, 79700000], "nice": false}, "axis": null}, "color": {"field": "lo", "type": "quantitative", "scale": {"domain": [-3.5,-3,-2.5,-2,-1.5,-1,-0.5,0,0.5,1,1.5,2,2.5,3,3.5], "range": ["#1a5ea6","#2b6fb2","#4a8bc4","#7fb4d6","#a3c8de","#bcd3e0","#d3dbe0","#e7d4ca","#f0bda5","#efa082","#e8775c","#dc4b3d","#d3302f","#cc0b27","#c4001f"], "interpolate": "rgb"}, "legend": null}}},
       {"mark": {"type": "rect", "color": "white", "strokeWidth": 0}, "encoding": {"y": {"field": "exp", "type": "quantitative", "scale": {"domain": [0, 79700000], "nice": false}, "axis": null}}},
       {"mark": {"type": "rect", "fillOpacity": 0.45, "strokeWidth": 0}, "encoding": {"y": {"field": "exp", "type": "quantitative", "scale": {"domain": [0, 79700000], "nice": false}, "axis": null}, "color": {"field": "lo", "type": "quantitative", "legend": null}}},
       {"mark": {"type": "rect", "stroke": "white", "strokeWidth": 2.5}, "encoding": {"y": {"field": "rec", "type": "quantitative", "scale": {"domain": [0, 79700000], "nice": false}, "axis": null}, "color": {"field": "lo", "type": "quantitative", "legend": null}}},
       {"mark": {"type": "rect", "strokeWidth": 0}, "encoding": {"y": {"field": "rec", "type": "quantitative", "scale": {"domain": [0, 79700000], "nice": false}, "axis": null}, "color": {"field": "lo", "type": "quantitative", "legend": null}}}
      ]},
     {"width": 133, "height": 247, "data": {"name": "b23"},
      "encoding": {"x": {"field": "lo", "type": "quantitative", "scale": {"domain": [-6, 6], "nice": false}, "axis": {"values": [-6, -3, 0, 3, 6], "title": null, "labelFlush": false, "labelFontSize": 14, "zindex": 1}}, "x2": {"field": "hi"}, "y2": {"datum": 0}},
      "layer": [
       {"mark": {"type": "rect", "filled": false, "strokeWidth": 2, "strokeOpacity": 0.8}, "encoding": {"y": {"field": "exp", "type": "quantitative", "scale": {"domain": [0, 79700000], "nice": false}, "axis": {"orient": "right", "title": "True news", "labels": false, "ticks": false, "domain": false, "titleFontSize": 15, "titleFontWeight": "bold", "titlePadding": 8}}, "color": {"field": "lo", "type": "quantitative", "scale": {"domain": [-3.5,-3,-2.5,-2,-1.5,-1,-0.5,0,0.5,1,1.5,2,2.5,3,3.5], "range": ["#1a5ea6","#2b6fb2","#4a8bc4","#7fb4d6","#a3c8de","#bcd3e0","#d3dbe0","#e7d4ca","#f0bda5","#efa082","#e8775c","#dc4b3d","#d3302f","#cc0b27","#c4001f"], "interpolate": "rgb"}, "legend": null}}},
       {"mark": {"type": "rect", "color": "white", "strokeWidth": 0}, "encoding": {"y": {"field": "exp", "type": "quantitative", "scale": {"domain": [0, 79700000], "nice": false}, "axis": {"orient": "right", "title": "True news", "labels": false, "ticks": false, "domain": false, "titleFontSize": 15, "titleFontWeight": "bold", "titlePadding": 8}}}},
       {"mark": {"type": "rect", "fillOpacity": 0.45, "strokeWidth": 0}, "encoding": {"y": {"field": "exp", "type": "quantitative", "scale": {"domain": [0, 79700000], "nice": false}, "axis": {"orient": "right", "title": "True news", "labels": false, "ticks": false, "domain": false, "titleFontSize": 15, "titleFontWeight": "bold", "titlePadding": 8}}, "color": {"field": "lo", "type": "quantitative", "legend": null}}},
       {"mark": {"type": "rect", "stroke": "white", "strokeWidth": 2.5}, "encoding": {"y": {"field": "rec", "type": "quantitative", "scale": {"domain": [0, 79700000], "nice": false}, "axis": {"orient": "right", "title": "True news", "labels": false, "ticks": false, "domain": false, "titleFontSize": 15, "titleFontWeight": "bold", "titlePadding": 8}}, "color": {"field": "lo", "type": "quantitative", "legend": null}}},
       {"mark": {"type": "rect", "strokeWidth": 0}, "encoding": {"y": {"field": "rec", "type": "quantitative", "scale": {"domain": [0, 79700000], "nice": false}, "axis": {"orient": "right", "title": "True news", "labels": false, "ticks": false, "domain": false, "titleFontSize": 15, "titleFontWeight": "bold", "titlePadding": 8}}, "color": {"field": "lo", "type": "quantitative", "legend": null}}}
      ]}
    ]},
   {"width": 469, "height": 12, "data": {"values": [{}]}, "layer": [
     {"mark": {"type": "point", "shape": "M-1,0L-0.86,-0.12L0.86,-0.12L1,0L0.86,0.12L-0.86,0.12Z", "size": 8100, "filled": true, "opacity": 1, "stroke": "#222222", "strokeWidth": 0.8, "fill": {"gradient": "linear", "x1": 0, "y1": 0, "x2": 1, "y2": 0, "stops": [{"offset": 0, "color": "#0b4a94"}, {"offset": 0.15, "color": "#3a7fbd"}, {"offset": 0.3, "color": "#8dbcd9"}, {"offset": 0.45, "color": "#d6e0e6"}, {"offset": 0.55, "color": "#eee2dc"}, {"offset": 0.7, "color": "#f2b59b"}, {"offset": 0.85, "color": "#e0604a"}, {"offset": 1, "color": "#c0001f"}]}},
      "encoding": {"x": {"datum": 0, "type": "quantitative", "scale": {"domain": [-21.16, 21.16], "nice": false}, "axis": {"labels": false, "ticks": false, "domain": false, "title": "User ideology", "titleFontSize": 17, "titleFontWeight": "normal", "titlePadding": 6}}}},
     {"mark": {"type": "text", "text": "Left", "align": "right", "baseline": "middle", "fontSize": 15, "fontWeight": "bold", "color": "#2b7bba"}, "encoding": {"x": {"datum": -4.3, "type": "quantitative", "axis": {"labels": false, "ticks": false, "domain": false, "title": "User ideology", "titleFontSize": 17, "titleFontWeight": "normal", "titlePadding": 6}}}},
     {"mark": {"type": "text", "text": "Right", "align": "left", "baseline": "middle", "fontSize": 15, "fontWeight": "bold", "color": "#cc1a35"}, "encoding": {"x": {"datum": 4.3, "type": "quantitative", "axis": {"labels": false, "ticks": false, "domain": false, "title": "User ideology", "titleFontSize": 17, "titleFontWeight": "normal", "titlePadding": 6}}}}
   ]}
  ]}
 ]
}
]
}
